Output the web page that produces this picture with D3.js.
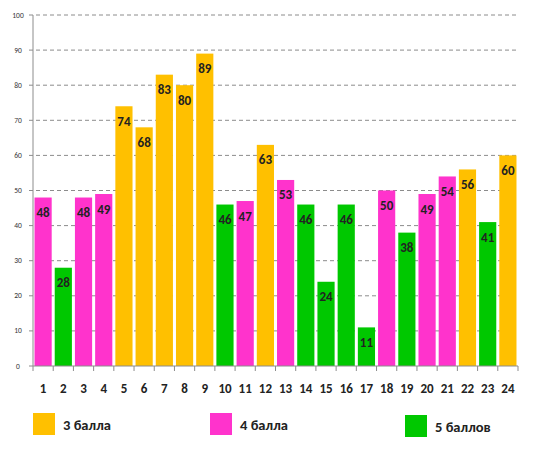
<!DOCTYPE html>
<html>
<head>
<meta charset="utf-8">
<script src="https://cdn.jsdelivr.net/npm/d3@7"></script>
<style>
  body { margin: 0; background: #fff; }
  svg { display: block; font-family: Calibri, Carlito, "Open Sans", "DejaVu Sans", sans-serif; }
</style>
</head>
<body>
<svg id="chart" width="533" height="459"></svg>
<script>
// data
const categories = d3.range(1, 25).map(String);
const values = [48, 28, 48, 49, 74, 68, 83, 80, 89, 46, 47, 63, 53, 46, 24, 46, 11, 50, 38, 49, 54, 56, 41, 60];
const grades = [4, 5, 4, 4, 3, 3, 3, 3, 3, 5, 4, 3, 4, 5, 5, 5, 5, 4, 5, 4, 4, 3, 5, 3];
const legendLabels = ["3 балла", "4 балла", "5 баллов"];
const yTicks = d3.range(0, 101, 10);

const colors = { 3: "#FFC000", 4: "#FF33CC", 5: "#00C800" };

const svg = d3.select("#chart");
const plotLeft = 33, plotRight = 518, plotTop = 15, plotBottom = 366;

const x = d3.scaleBand()
    .domain(categories)
    .range([plotLeft, plotRight])
    .paddingInner(0.15)
    .paddingOuter(0.075);

const y = d3.scaleLinear()
    .domain([0, 100])
    .range([plotBottom, plotTop]);

// dashed grid
svg.append("g")
    .selectAll("line")
    .data(yTicks.filter(d => d > 0))
    .join("line")
    .attr("x1", plotLeft - 4)
    .attr("x2", plotRight)
    .attr("y1", d => y(d))
    .attr("y2", d => y(d))
    .attr("stroke", "#8c8c8c")
    .attr("stroke-width", 1)
    .attr("stroke-dasharray", "4,3");

// y tick labels
svg.append("g")
    .selectAll("text")
    .data(yTicks)
    .join("text")
    .attr("x", 18)
    .attr("y", d => y(d) + 2.5)
    .attr("text-anchor", "middle")
    .attr("font-size", 7.5)
    .attr("fill", "#333")
    .text(d => d);

// bars
const rows = values.map((v, i) => ({ cat: categories[i], v: v, g: grades[i] }));

svg.append("g")
    .selectAll("rect")
    .data(rows)
    .join("rect")
    .attr("x", d => x(d.cat))
    .attr("y", d => y(d.v))
    .attr("width", x.bandwidth())
    .attr("height", d => y(0) - y(d.v))
    .attr("fill", d => colors[d.g]);

svg.append("g")
    .selectAll("text")
    .data(rows)
    .join("text")
    .attr("x", d => x(d.cat) + x.bandwidth() / 2)
    .attr("y", d => y(d.v) + 19.5)
    .attr("text-anchor", "middle")
    .attr("font-size", 13)
    .attr("font-weight", "bold")
    .attr("fill", "#222")
    .text(d => d.v);

// axis lines
svg.append("line")
    .attr("x1", plotLeft).attr("x2", plotLeft)
    .attr("y1", plotTop).attr("y2", plotBottom)
    .attr("stroke", "#8c8c8c");

const xAxis = svg.append("g");
xAxis.append("line")
    .attr("x1", plotLeft - 4).attr("x2", plotRight)
    .attr("y1", plotBottom).attr("y2", plotBottom)
    .attr("stroke", "#8c8c8c");

const colW = (plotRight - plotLeft) / categories.length;
xAxis.selectAll("line.tick")
    .data(d3.range(0, categories.length + 1))
    .join("line")
    .attr("class", "tick")
    .attr("x1", i => plotLeft + i * colW)
    .attr("x2", i => plotLeft + i * colW)
    .attr("y1", plotBottom)
    .attr("y2", plotBottom + 5)
    .attr("stroke", "#8c8c8c");

xAxis.selectAll("text")
    .data(categories)
    .join("text")
    .attr("x", d => x(d) + x.bandwidth() / 2)
    .attr("y", 392.5)
    .attr("text-anchor", "middle")
    .attr("font-size", 13)
    .attr("font-weight", "bold")
    .attr("fill", "#222")
    .text(d => d);

// legend
const legendX = [33, 210, 405];
const legend = svg.append("g")
    .selectAll("g")
    .data(legendLabels)
    .join("g")
    .attr("transform", (d, i) => `translate(${legendX[i]},${i === 2 ? 415 : 413})`);

legend.append("rect")
    .attr("width", 22)
    .attr("height", 22)
    .attr("fill", (d, i) => colors[i + 3]);

legend.append("text")
    .attr("x", 30)
    .attr("y", 16.5)
    .attr("font-size", 14.5)
    .attr("font-weight", "bold")
    .attr("fill", "#222")
    .text(d => d);
</script>
</body>
</html>
